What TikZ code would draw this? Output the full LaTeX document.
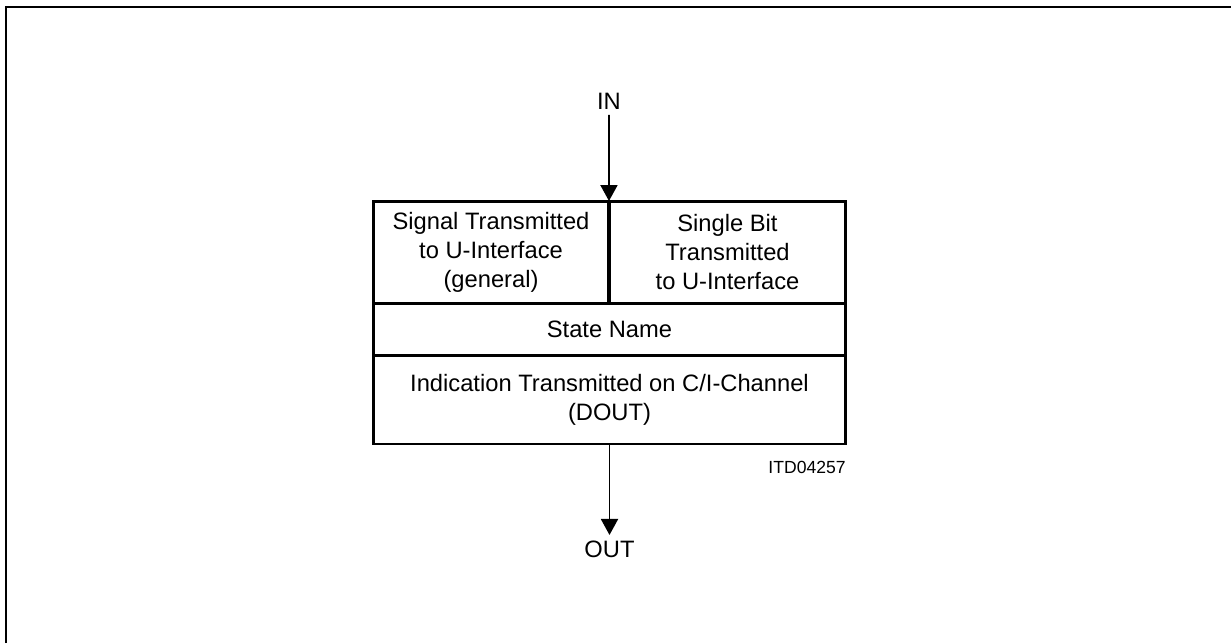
\documentclass[tikz,border=0pt]{standalone}
\usepackage{fontspec}
\setmainfont{Liberation Sans}
\usetikzlibrary{arrows.meta}

\tikzset{
  cell/.style={draw, line width=1.7pt, inner sep=0pt, outer sep=0pt, align=center,
    font=\fontsize{13.5}{16.5}\selectfont},
  flow/.style={line width=1.1pt, -{Triangle[length=0.32cm,width=0.34cm]}},
  lbl/.style={inner sep=3pt, font=\fontsize{13.5}{16.5}\selectfont}
}

\begin{document}
\begin{tikzpicture}[x=0.02cm,y=-0.02cm]
\useasboundingbox (0,0) rectangle (1231,643);
%----frame--------------------------------------
\draw[line width=1.1pt] (6,643) -- (6,7) -- (1231,7);
%----cells of the state box---------------------
\node[cell, minimum width=4.72cm, minimum height=2.04cm] (sig) at (491,252)
    {Signal Transmitted\\to U-Interface\\(general)};
\node[cell, minimum width=4.74cm, minimum height=2.04cm] (bit) at (727.5,252)
    {Single Bit\\Transmitted\\to U-Interface};
\node[cell, minimum width=9.46cm, minimum height=1.04cm] (state) at (609.5,329)
    {State Name};
\node[cell, minimum width=9.46cm, minimum height=1.78cm] (ind) at (609.5,399.5)
    {Indication Transmitted on C/I-Channel\\(DOUT)};
%----in and out---------------------------------
\node[lbl] (in) at (609,101) {IN};
\node[lbl] (out) at (609.5,549) {OUT};
\draw[flow] (in) -- (sig.north east);
\draw[flow] (ind.south) -- (out);
%----text---------------------------------------
\node[anchor=east, inner sep=0pt, font=\fontsize{10}{12}\selectfont] (itd) at (846,467) {ITD04257};
\end{tikzpicture}
\end{document}
